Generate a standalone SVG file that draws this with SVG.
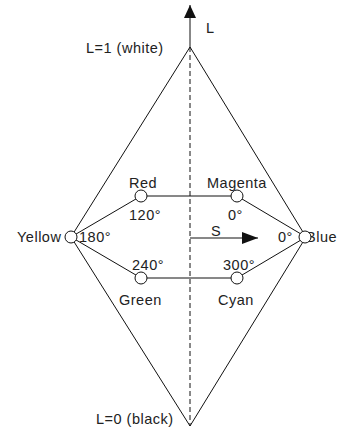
<svg xmlns="http://www.w3.org/2000/svg" width="344" height="427" viewBox="0 0 344 427">
<style>
  .ln { stroke:#111; stroke-width:1; fill:none; }
  .dash { stroke:#111; stroke-width:1; stroke-dasharray:5 3; fill:none; }
  .nd { fill:#fff; stroke:#111; stroke-width:1; }
  text { font-family:"Liberation Sans", Arial, sans-serif; font-size:14.5px; letter-spacing:0.5px; fill:#222; }
</style>
<defs>
  <marker id="ahS" viewBox="0 0 16 12" refX="16" refY="6" markerWidth="16" markerHeight="12" markerUnits="userSpaceOnUse" orient="auto">
    <path d="M0,0 L16,6 L0,12 Z" fill="#111"/>
  </marker>
  <marker id="ahL" viewBox="0 0 13 12" refX="13" refY="6" markerWidth="13" markerHeight="12" markerUnits="userSpaceOnUse" orient="auto">
    <path d="M0,0 L13,6 L0,12 Z" fill="#111"/>
  </marker>
</defs>
<g id="connectors">
  <line class="ln" x1="190" y1="47" x2="190" y2="5" marker-end="url(#ahL)"/>
  <line class="dash" x1="190" y1="47" x2="190" y2="426"/>
  <polyline class="ln" points="71,237 190,47 306,237"/>
  <polyline class="ln" points="71,237 190,426 306,237"/>
  <polyline class="ln" points="71,237 141,196 237,196 306,237"/>
  <polyline class="ln" points="71,237 141,278 237,278 306,237"/>
  <line class="ln" x1="190" y1="238" x2="258" y2="238" marker-end="url(#ahS)"/>
</g>
<text x="206" y="33">L</text>
<text x="86" y="53">L=1 (white)</text>
<text x="96" y="424">L=0 (black)</text>
<text x="211" y="236">S</text>
<g id="red"><circle class="nd" cx="141" cy="196" r="6"/><text x="129" y="188">Red</text><text x="129" y="220">120°</text></g>
<g id="magenta"><circle class="nd" cx="237" cy="196" r="6"/><text x="207" y="188">Magenta</text><text x="228" y="220">0°</text></g>
<g id="yellow"><circle class="nd" cx="71" cy="237" r="6"/><text x="17" y="242">Yellow</text><text x="79" y="242">180°</text></g>
<g id="blue"><text x="306" y="242">Blue</text><circle class="nd" cx="305" cy="237" r="6"/><text x="278" y="242">0°</text></g>
<g id="green"><circle class="nd" cx="141" cy="278" r="6"/><text x="132" y="270">240°</text><text x="119" y="305">Green</text></g>
<g id="cyan"><circle class="nd" cx="237" cy="278" r="6"/><text x="223" y="270">300°</text><text x="218" y="305">Cyan</text></g>
</svg>
